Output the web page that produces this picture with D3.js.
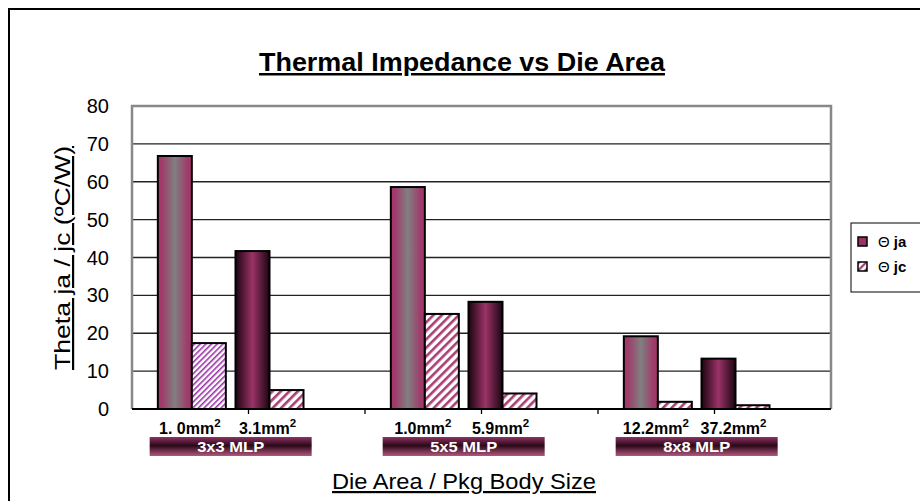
<!DOCTYPE html>
<html><head><meta charset="utf-8">
<script src="https://cdn.jsdelivr.net/npm/d3@7"></script>
<style>body{margin:0;background:#fff}svg{display:block;font-family:"Liberation Sans",Arial,sans-serif}</style>
</head><body>
<script>
const packages = ["3x3 MLP", "5x5 MLP", "8x8 MLP"];
const dieLabels = ["1. 0mm", "3.1mm", "1.0mm", "5.9mm", "12.2mm", "37.2mm"];
const dieSlot = [0, 1, 3, 4, 6, 7];           // slot positions (blank slot between packages)
const dieStyle = ["a", "b", "a", "b", "a", "b"];
const thetaJA = [66.8, 41.7, 58.6, 28.3, 19.2, 13.3];
const thetaJC = [17.4, 5.0, 25.1, 4.1, 1.9, 1.0];
const yTicks = [0, 10, 20, 30, 40, 50, 60, 70, 80];
const seriesNames = ["ja", "jc"];

const W = 920, H = 501;
const svg = d3.select("body").append("svg").attr("width", W).attr("height", H);
const defs = svg.append("defs");

function lg(id, stops, vertical) {
  const g = defs.append("linearGradient").attr("id", id)
    .attr("x1", 0).attr("y1", 0).attr("x2", vertical ? 0 : 1).attr("y2", vertical ? 1 : 0);
  stops.forEach(s => g.append("stop").attr("offset", s[0]).attr("stop-color", s[1]));
}
lg("gA", [[0, "#a3386c"], [0.12, "#a03a6a"], [0.5, "#808080"], [0.88, "#a03a6a"], [1, "#a3386c"]]);
lg("gB", [[0, "#1c0512"], [0.5, "#9a3366"], [1, "#1c0512"]]);
lg("gPkg", [[0, "#8e3263"], [0.45, "#2a0918"], [1, "#b5567f"]], true);

function stripes(id, period, width, color) {
  const p = defs.append("pattern").attr("id", id).attr("patternUnits", "userSpaceOnUse")
    .attr("width", period).attr("height", period).attr("patternTransform", "rotate(45)");
  p.append("rect").attr("width", period).attr("height", period).attr("fill", "#fff");
  p.append("rect").attr("width", width).attr("height", period).attr("fill", color);
}
stripes("sa", 4, 1.6, "#9b34a8");
stripes("sb", 6, 2.6, "#a83e72");
stripes("sl", 5, 2.2, "#a83e72");

// frame
svg.append("rect").attr("x", 9).attr("y", 9).attr("width", 930).attr("height", 520)
  .attr("fill", "none").attr("stroke", "#000").attr("stroke-width", 2);

const plot = {l: 132, t: 106, r: 831, b: 409};
const y = d3.scaleLinear().domain([0, 80]).range([plot.b, plot.t]);
const slot = d3.scaleBand().domain(d3.range(9)).range([153, 852]);
const barW = 34;
const tickScale = d3.scaleLinear().domain([0, 6]).range([plot.l, plot.r]);

// title
svg.append("text").attr("x", 462).attr("y", 71).attr("text-anchor", "middle")
  .attr("font-size", 25).attr("font-weight", "bold").attr("text-decoration", "underline")
  .attr("textLength", 406).attr("lengthAdjust", "spacingAndGlyphs")
  .text("Thermal Impedance vs Die Area");

// gridlines
svg.append("g").selectAll("line").data(yTicks.filter(v => v > 0 && v < 80)).join("line")
  .attr("x1", plot.l).attr("x2", plot.r).attr("y1", d => y(d)).attr("y2", d => y(d))
  .attr("stroke", "#222").attr("stroke-width", 1.3);

// plot border
svg.append("path").attr("d", `M${plot.l},${plot.b}V${plot.t}H${plot.r}V${plot.b}`)
  .attr("fill", "none").attr("stroke", "#888").attr("stroke-width", 2.5);

// y tick labels
svg.append("g").selectAll("text").data(yTicks).join("text")
  .attr("x", 109).attr("y", d => y(d) + 7).attr("text-anchor", "end")
  .attr("font-size", 20).text(d => d);

// bars
const idx = d3.range(dieLabels.length);
svg.append("g").selectAll("rect").data(idx).join("rect")
  .attr("x", i => slot(dieSlot[i]) + slot.bandwidth() / 2 - barW)
  .attr("y", i => y(thetaJA[i])).attr("width", barW)
  .attr("height", i => y(0) - y(thetaJA[i]))
  .attr("fill", i => dieStyle[i] === "a" ? "url(#gA)" : "url(#gB)")
  .attr("stroke", "#000").attr("stroke-width", 2);
svg.append("g").selectAll("rect").data(idx).join("rect")
  .attr("x", i => slot(dieSlot[i]) + slot.bandwidth() / 2)
  .attr("y", i => y(thetaJC[i])).attr("width", barW)
  .attr("height", i => y(0) - y(thetaJC[i]))
  .attr("fill", i => i === 0 ? "url(#sa)" : "url(#sb)")
  .attr("stroke", "#000").attr("stroke-width", 2);

// x axis line & ticks
svg.append("line").attr("x1", plot.l).attr("x2", plot.r).attr("y1", plot.b).attr("y2", plot.b)
  .attr("stroke", "#000").attr("stroke-width", 1.8);
svg.append("g").selectAll("line").data(tickScale.ticks(6).filter(t => t > 0 && t < 6)).join("line")
  .attr("x1", d => tickScale(d)).attr("x2", d => tickScale(d))
  .attr("y1", plot.b).attr("y2", plot.b + 5).attr("stroke", "#000").attr("stroke-width", 1.3);

// die labels
const dl = svg.append("g").selectAll("text").data(idx).join("text")
  .attr("x", i => slot(dieSlot[i]) + slot.bandwidth() / 2 - 2).attr("y", 434)
  .attr("text-anchor", "middle").attr("font-size", 16).attr("font-weight", "bold");
dl.append("tspan").text(i => dieLabels[i]);
dl.append("tspan").attr("dy", -7).attr("font-size", 11.5).text("2");

// package labels
const pkgCenter = p => (slot(p * 3) + slot(p * 3 + 1) + slot.bandwidth()) / 2;
svg.append("g").selectAll("rect").data(d3.range(packages.length)).join("rect")
  .attr("x", p => pkgCenter(p) - 81).attr("y", 437).attr("width", 162).attr("height", 19)
  .attr("fill", "url(#gPkg)");
svg.append("g").selectAll("text").data(d3.range(packages.length)).join("text")
  .attr("x", p => pkgCenter(p)).attr("y", 452).attr("text-anchor", "middle")
  .attr("fill", "#fff").attr("font-size", 14).attr("font-weight", "bold")
  .attr("textLength", 67).attr("lengthAdjust", "spacingAndGlyphs")
  .text(p => packages[p]);

// axis titles
svg.append("text").attr("x", 464).attr("y", 489).attr("text-anchor", "middle")
  .attr("font-size", 22).attr("text-decoration", "underline")
  .attr("textLength", 264).attr("lengthAdjust", "spacingAndGlyphs")
  .text("Die Area / Pkg Body Size");
svg.append("text").attr("transform", "translate(70,258) rotate(-90)").attr("text-anchor", "middle")
  .attr("font-size", 22).attr("text-decoration", "underline")
  .attr("textLength", 224).attr("lengthAdjust", "spacingAndGlyphs")
  .text("Theta ja / jc (ºC/W)");

// legend
svg.append("rect").attr("x", 851).attr("y", 223).attr("width", 80).attr("height", 69)
  .attr("fill", "#fff").attr("stroke", "#000").attr("stroke-width", 1);
const lgd = svg.append("g").selectAll("g").data(seriesNames).join("g")
  .attr("transform", (d, i) => `translate(858,${237 + i * 25})`);
lgd.append("rect").attr("width", 9).attr("height", 9)
  .attr("fill", (d, i) => i === 0 ? "#993366" : "url(#sl)")
  .attr("stroke", "#000").attr("stroke-width", 1.5);
const lt = lgd.append("text").attr("x", 20).attr("y", 10).attr("font-size", 15);
lt.append("tspan").text("Θ ");
lt.append("tspan").attr("font-weight", "bold").text(d => d);
</script>
</body></html>
